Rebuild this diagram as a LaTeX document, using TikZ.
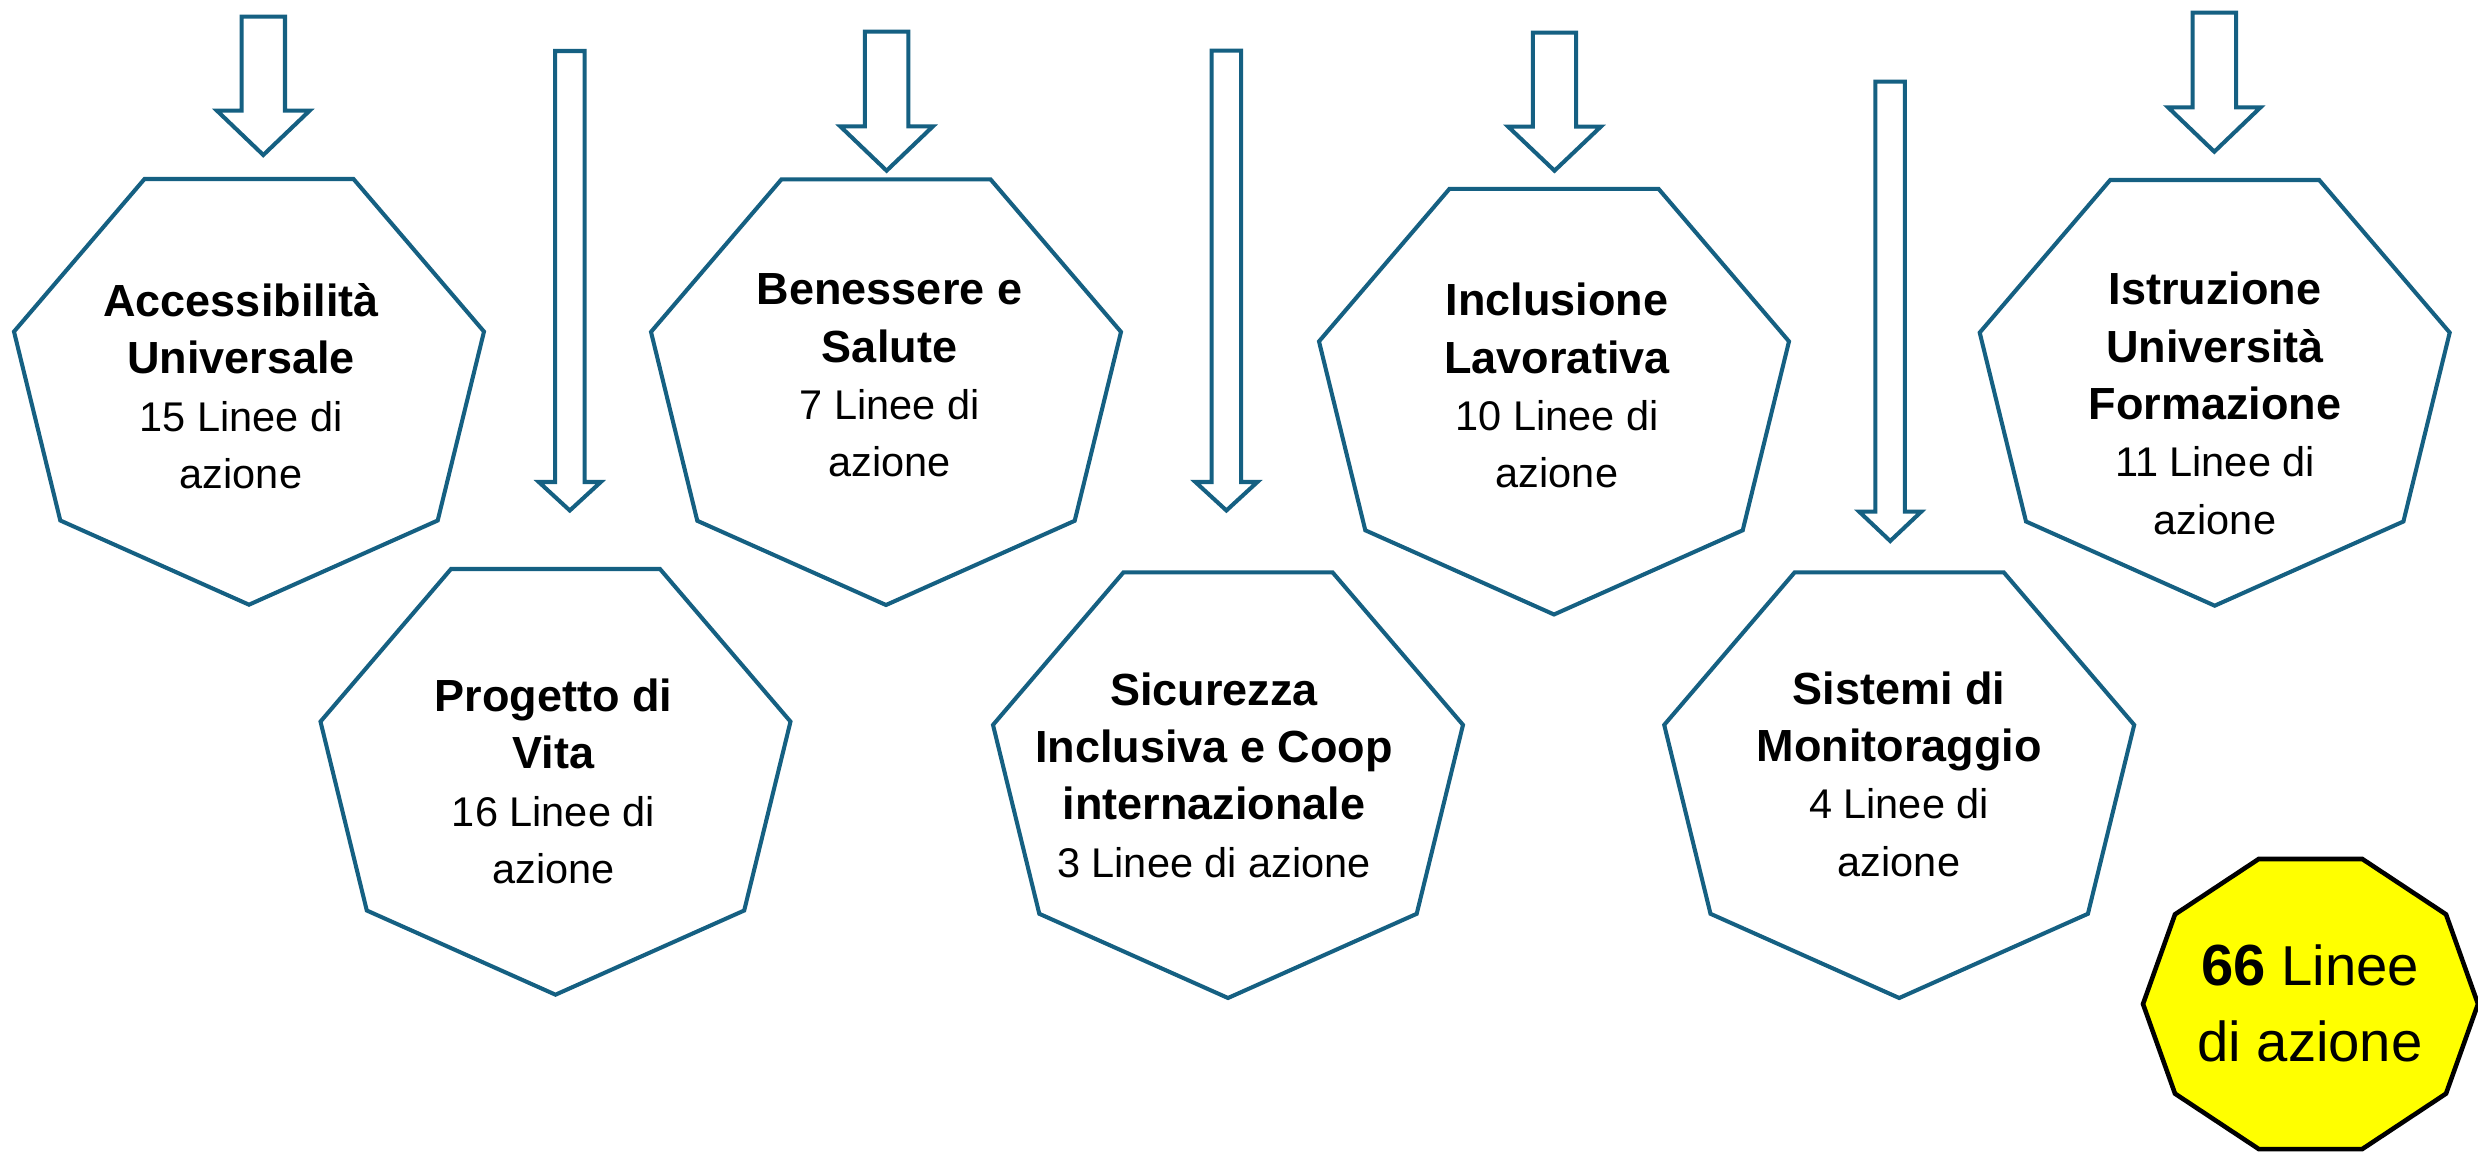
\documentclass[tikz,border=0pt]{standalone}
\usepackage{fontspec}
\setmainfont{Liberation Sans}
\definecolor{hepblue}{HTML}{156082}
\definecolor{yel}{HTML}{FFFF00}
\tikzset{
  hepline/.style={draw=hepblue, line width=1.15pt, line join=miter},
  blockarrow/.style={draw=hepblue, line width=1.15pt, fill=white, line join=miter},
  totshape/.style={draw=black, line width=1.3pt, fill=yel, line join=miter},
  lbl/.style={anchor=north, inner sep=0pt, align=center, font=\fontsize{11.8pt}{16.33pt}\selectfont},
  biglbl/.style={anchor=north, inner sep=0pt, align=center, font=\fontsize{16pt}{21.62pt}\selectfont},
}
\newcommand{\tb}[1]{{\fontsize{12.8pt}{16.33pt}\selectfont\bfseries #1}\strut}
\newcommand{\tr}[1]{#1\strut}
% heptagon: cx, top
\newcommand{\hept}[2]{%
  \draw[hepline] ({#1-104.5},{#2}) -- ({#1+104.5},{#2}) -- ({#1+235},{#2+152.6})
    -- ({#1+188.7},{#2+341.5}) -- ({#1},{#2+425.7}) -- ({#1-188.7},{#2+341.5})
    -- ({#1-235},{#2+152.6}) -- cycle;}
% block arrow: cx, shaft half, head half, top, head start, tip
\newcommand{\barrow}[6]{%
  \draw[blockarrow] ({#1-#2},{#4}) -- ({#1+#2},{#4}) -- ({#1+#2},{#5}) -- ({#1+#3},{#5})
    -- ({#1},{#6}) -- ({#1-#3},{#5}) -- ({#1-#2},{#5}) -- cycle;}
\begin{document}
\begin{tikzpicture}[x=0.01cm, y=-0.01cm]
\useasboundingbox (0,0) rectangle (2478,1152);
\fill[white] (0,0) rectangle (2478,1152);

% heptagons
\hept{249}{179}
\hept{555.5}{569}
\hept{886}{179.3}
\hept{1228}{572.3}
\hept{1554}{188.8}
\hept{1899.2}{572.3}
\hept{2214.7}{180}

% arrows
\barrow{263.3}{21.7}{46.3}{16.7}{110.7}{155}
\barrow{569.8}{14.75}{31}{51}{482}{510.5}
\barrow{886.6}{21.7}{46.3}{31.6}{126.4}{170.7}
\barrow{1226.4}{14.75}{31}{50.6}{482}{510.5}
\barrow{1554.5}{21.7}{46.3}{32.7}{126.7}{170.7}
\barrow{1890.2}{14.75}{31}{81.7}{511.7}{541}
\barrow{2214.3}{21.7}{46.3}{12.7}{107.3}{151.7}

% total decagon
\draw[totshape] ({2310.5+167.5},{1004}) \foreach \a in {36,72,...,324} { -- ({2310.5+167.5*cos(\a)},{1004-152.5*sin(\a)}) } -- cycle;

% labels
\node[lbl] (acc) at (241,275.5) {\tb{Accessibilità}\\\tb{Universale}\\\tr{15 Linee di}\\\tr{azione}};
\node[lbl] (pro) at (553.5,670.5) {\tb{Progetto di}\\\tb{Vita}\\\tr{16 Linee di}\\\tr{azione}};
\node[lbl] (ben) at (889.5,263.8) {\tb{Benessere e}\\\tb{Salute}\\\tr{7 Linee di}\\\tr{azione}};
\node[lbl] (sic) at (1214,664.1) {\tb{Sicurezza}\\\tb{Inclusiva e Coop}\\\tb{internazionale}\\\tr{3 Linee di azione}};
\node[lbl] (inc) at (1557,274.8) {\tb{Inclusione}\\\tb{Lavorativa}\\\tr{10 Linee di}\\\tr{azione}};
\node[lbl] (sis) at (1899,663.1) {\tb{Sistemi di}\\\tb{Monitoraggio}\\\tr{4 Linee di}\\\tr{azione}};
\node[lbl] (ist) at (2215,263.8) {\tb{Istruzione}\\\tb{Università}\\\tb{Formazione}\\\tr{11 Linee di}\\\tr{azione}};
\node[biglbl] (tot) at (2310,931.8) {{\fontsize{16.5pt}{21.62pt}\selectfont\bfseries 66} Linee\strut\\di azione\strut};
\end{tikzpicture}
\end{document}
